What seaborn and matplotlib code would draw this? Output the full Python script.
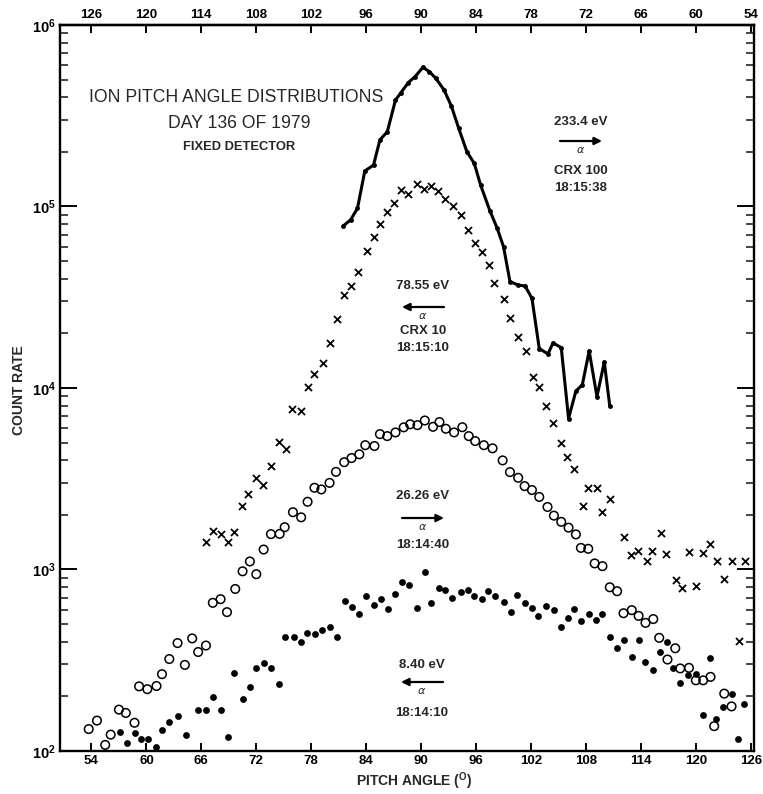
import numpy as np
import pandas as pd
import matplotlib
matplotlib.use('Agg')
import matplotlib.pyplot as plt
import matplotlib.font_manager as fm
from matplotlib.ticker import LogLocator, NullFormatter
import seaborn as sns

# values: pitch angle (deg) and count rate
# 233.4 eV, CRX 100 (solid line)
ang_233 = [81.5, 82.3, 83.05, 83.85, 84.8, 85.5, 86.3, 87.2, 87.75, 88.6,
           89.35, 90.2, 90.9, 91.6, 92.5, 93.3, 94.1, 95.0, 95.8, 96.5,
           97.5, 98.3, 99.0, 99.7, 100.6, 101.35, 102.1, 102.9, 103.85, 104.4,
           105.3, 106.1, 106.9, 107.6, 108.35, 109.2, 110.0, 110.6]
cnt_233 = [78200, 84400, 97800, 157000, 169000, 233000, 258000, 386000, 421000, 482000,
           520000, 585000, 553000, 509000, 439000, 358000, 270000, 200000, 173000, 131000,
           95000, 76000, 60000, 38600, 36900, 36500, 31200, 16500, 15400, 17700,
           16700, 6790, 9620, 10400, 16000, 8960, 13900, 7980]

# 78.55 eV, CRX 10 (crosses)
ang_78 = [66.5, 67.3, 68.1, 68.9, 69.6, 70.45, 71.1, 72.0, 72.7, 73.65,
          74.45, 75.2, 75.9, 76.9, 77.6, 78.35, 79.25, 80.0, 80.8, 81.6,
          82.3, 83.1, 84.1, 84.9, 85.5, 86.3, 87.0, 87.8, 88.6, 89.5,
          90.3, 91.1, 91.8, 92.6, 93.45, 94.35, 95.1, 95.9, 96.7, 97.45,
          98.0, 99.1, 99.7, 100.6, 101.4, 102.25, 102.9, 103.65, 104.4, 105.3,
          105.9, 106.7, 107.7, 108.2, 109.2, 109.8, 110.6, 112.1, 112.95, 113.7,
          114.65, 115.2, 116.2, 116.7, 117.8, 118.45, 119.25, 120.0, 120.8, 121.6,
          122.35, 123.1, 123.95, 124.7, 125.4]
cnt_78 = [1420, 1620, 1560, 1420, 1610, 2230, 2620, 3200, 2920, 3740,
          5030, 4590, 7620, 7490, 10070, 12000, 13800, 17600, 23900, 32500,
          36500, 43600, 56600, 68000, 79700, 93600, 105000, 123000, 117000, 133000,
          125000, 129000, 122000, 110000, 101000, 89800, 74100, 63100, 55800, 47800,
          37700, 30800, 24300, 19100, 15900, 11450, 10070, 7940, 6430, 4990,
          4140, 3570, 2230, 2800, 2800, 2080, 2460, 1510, 1200, 1270,
          1115, 1270, 1580, 1215, 880, 786, 1250, 809, 1225, 1380,
          1115, 885, 1115, 403, 1115]

# 26.26 eV (open circles)
ang_26 = [53.7, 54.6, 55.5, 56.1, 57.0, 57.75, 58.7, 59.2, 60.1, 61.1,
          61.7, 62.5, 63.4, 64.2, 65.0, 65.65, 66.5, 67.25, 68.1, 68.8,
          69.7, 70.5, 71.3, 72.0, 72.8, 73.6, 74.55, 75.1, 76.0, 76.9,
          77.6, 78.35, 79.1, 80.0, 80.7, 81.6, 82.4, 83.25, 83.9, 84.9,
          85.5, 86.3, 87.2, 88.1, 88.8, 89.6, 90.4, 91.3, 92.0, 92.7,
          93.6, 94.5, 95.2, 95.9, 96.85, 97.8, 98.9, 99.7, 100.6, 101.3,
          102.1, 102.9, 103.8, 104.5, 105.3, 106.1, 106.9, 107.45, 108.25, 108.95,
          109.8, 110.6, 111.4, 112.1, 113.0, 113.75, 114.5, 115.35, 116.0, 116.9,
          117.75, 118.3, 119.25, 120.0, 120.8, 121.6, 122.0, 123.1, 123.9]
cnt_26 = [132, 147, 108, 123, 169, 162, 143, 227, 219, 228,
          265, 321, 393, 298, 417, 351, 381, 655, 686, 582,
          781, 977, 1107, 942, 1288, 1566, 1571, 1710, 2068, 1938,
          2361, 2820, 2760, 3000, 3450, 3900, 4110, 4310, 4840, 4790,
          5570, 5430, 5690, 6070, 6310, 6240, 6620, 6110, 6490, 5960,
          5690, 6080, 5430, 5100, 4840, 4650, 3990, 3440, 3200, 2880,
          2740, 2510, 2210, 1980, 1830, 1700, 1560, 1315, 1300, 1080,
          1043, 798, 759, 574, 597, 555, 508, 533, 420, 319,
          368, 285, 287, 245, 245, 256, 137, 207, 176]

# 8.40 eV (filled dots)
ang_8 = [57.15, 57.9, 58.7, 59.4, 60.2, 61.0, 61.7, 62.5, 63.4, 64.3,
         65.6, 66.55, 67.3, 68.1, 68.9, 69.6, 70.5, 71.3, 72.0, 72.8,
         73.65, 74.5, 75.1, 76.1, 76.9, 77.5, 78.4, 79.2, 80.1, 80.8,
         81.7, 82.4, 83.2, 84.0, 84.8, 85.6, 86.4, 87.2, 87.9, 88.7,
         89.5, 90.4, 91.1, 91.9, 92.65, 93.4, 94.3, 95.1, 95.8, 96.7,
         97.35, 98.1, 99.0, 99.8, 100.5, 101.3, 102.1, 102.8, 103.65, 104.5,
         105.3, 106.0, 106.7, 107.5, 108.3, 109.05, 109.8, 110.6, 111.4, 112.2,
         113.0, 113.75, 114.5, 115.3, 116.1, 116.9, 117.5, 118.3, 119.1, 120.0,
         120.8, 121.6, 122.25, 123.0, 124.0, 124.6, 125.3]
cnt_8 = [127, 110, 125, 116, 116, 105, 130, 144, 155, 123,
         168, 169, 198, 168, 119, 269, 194, 224, 286, 305,
         288, 234, 422, 422, 398, 447, 440, 462, 479, 426,
         671, 618, 569, 713, 638, 686, 607, 731, 851, 826,
         612, 970, 652, 795, 769, 695, 747, 769, 715, 685,
         762, 715, 658, 580, 721, 655, 614, 557, 630, 597,
         479, 541, 607, 519, 571, 525, 567, 426, 367, 409,
         330, 409, 308, 278, 350, 401, 285, 236, 261, 265,
         157, 324, 150, 174, 205, 116, 182]

x_ticks = list(range(54, 127, 6))
y_ticks = [1e2, 1e3, 1e4, 1e5, 1e6]
y_labels = [r'$\mathbf{10^{2}}$', r'$\mathbf{10^{3}}$', r'$\mathbf{10^{4}}$',
            r'$\mathbf{10^{5}}$', r'$\mathbf{10^{6}}$']

#%%
sns.set_theme(style='ticks')
plt.rcParams['font.family'] = ['Liberation Sans', 'DejaVu Sans']
plt.rcParams['mathtext.fontset'] = 'custom'
plt.rcParams['mathtext.rm'] = 'Liberation Sans'
plt.rcParams['mathtext.bf'] = 'Liberation Sans:bold'

names = {f.name for f in fm.fontManager.ttflist}
if 'Liberation Sans Narrow' in names:
    head_family, head_size = ['Liberation Sans Narrow', 'DejaVu Sans'], 15.5
else:
    head_family, head_size = ['Liberation Sans', 'DejaVu Sans'], 12.7

fig = plt.figure(figsize=(7.63, 7.94), dpi=100)
ax = fig.add_axes([0.0786, 0.0542, 0.9096, 0.9143])

d233 = pd.DataFrame({'angle': ang_233, 'count': cnt_233})
d78 = pd.DataFrame({'angle': ang_78, 'count': cnt_78})
d26 = pd.DataFrame({'angle': ang_26, 'count': cnt_26})
d8 = pd.DataFrame({'angle': ang_8, 'count': cnt_8})

sns.lineplot(data=d233, x='angle', y='count', ax=ax, color='black', lw=2.2,
             marker='o', markersize=3.5, markeredgewidth=0, estimator=None, sort=False)
sns.scatterplot(data=d78, x='angle', y='count', ax=ax, marker='x', color='black',
                s=26, linewidth=1.3)
sns.scatterplot(data=d26, x='angle', y='count', ax=ax, marker='o', facecolor='none',
                edgecolor='black', s=38, linewidth=1.1)
sns.scatterplot(data=d8, x='angle', y='count', ax=ax, marker='o', color='black',
                s=24, linewidth=0)

ax.set_yscale('log')
ax.set_xlim(50.56, 126.35)
ax.set_ylim(1e2, 1e6)
ax.set_xlabel('')
ax.set_ylabel('')

ax.set_xticks(x_ticks)
ax.set_xticklabels([str(t) for t in x_ticks], fontweight='bold', fontsize=9.5)
ax.set_yticks(y_ticks)
ax.set_yticklabels(y_labels, fontsize=10.5)
ax.yaxis.set_minor_locator(LogLocator(base=10, subs=range(2, 10), numticks=20))
ax.yaxis.set_minor_formatter(NullFormatter())
ax.tick_params(axis='x', which='major', direction='in', length=6, width=1.4,
               top=False, bottom=True, pad=3, colors='black')
ax.tick_params(axis='y', which='major', direction='in', length=12, width=1.4,
               left=True, right=True, pad=3, colors='black')
ax.tick_params(axis='y', which='minor', direction='in', length=5.5, width=1.2,
               left=True, right=True)
for side in ['left', 'right', 'top', 'bottom']:
    ax.spines[side].set_linewidth(1.7)
    ax.spines[side].set_color('black')

secax = ax.secondary_xaxis('top', functions=(lambda v: 180 - v, lambda v: 180 - v))
secax.set_xticks(x_ticks)
secax.set_xticklabels([str(t) for t in x_ticks], fontweight='bold', fontsize=9.5)
secax.tick_params(direction='in', length=6, width=1.4, pad=3, colors='black')
secax.spines['top'].set_linewidth(1.7)

# labels
def fx(px):
    return px / 763


def fy(py):
    return 1 - py / 794


fig.text(fx(19), fy(390), 'COUNT RATE', rotation=90, ha='center', va='center',
         fontsize=10, fontweight='bold')
fig.text(fx(414), fy(781), r'PITCH ANGLE ($^{\mathbf{O}}$)', ha='center', va='center',
         fontsize=10, fontweight='bold')

fig.text(fx(236), fy(97), 'ION PITCH ANGLE DISTRIBUTIONS', ha='center', va='center',
         family=head_family, fontsize=head_size)
fig.text(fx(239), fy(123), 'DAY 136 OF 1979', ha='center', va='center',
         family=head_family, fontsize=head_size)
fig.text(fx(239), fy(147), 'FIXED DETECTOR', ha='center', va='center',
         fontsize=9.3, fontweight='bold')

# beam annotations
notes = [
    (581, 122, '233.4 eV', 141, 'right', ['CRX 100', '18:15:38'], 171),
    (423, 286, '78.55 eV', 307, 'left', ['CRX 10', '18:15:10'], 331),
    (423, 496, '26.26 eV', 518, 'right', ['18:14:40'], 545),
    (422, 665, '8.40 eV', 682, 'left', ['18:14:10'], 713),
]
for cx, ty, energy, ay, way, lines, ly in notes:
    fig.text(fx(cx), fy(ty), energy, ha='center', va='center', fontsize=9.5,
             fontweight='bold')
    x0, x1 = fx(cx - 21), fx(cx + 21)
    if way == 'left':
        x0, x1 = x1, x0
    ax.annotate('', xy=(x1, fy(ay)), xytext=(x0, fy(ay)),
                xycoords='figure fraction', textcoords='figure fraction',
                arrowprops=dict(arrowstyle='-|>', color='black', lw=1.6,
                                mutation_scale=11, shrinkA=0, shrinkB=0))
    fig.text(fx(cx), fy(ay + 9), r'$\alpha$', ha='center', va='center', fontsize=8)
    for k, s in enumerate(lines):
        fig.text(fx(cx), fy(ly + 17 * k), s, ha='center', va='center', fontsize=9.5,
                 fontweight='bold')

fig.savefig('out.png', dpi=100)
